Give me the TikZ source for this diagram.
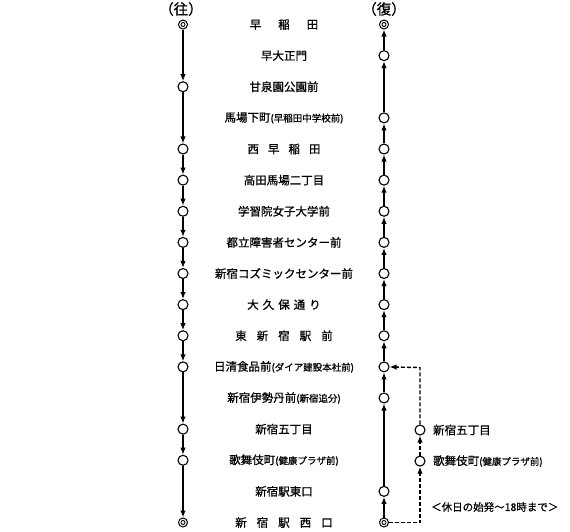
\documentclass[tikz,border=0pt]{standalone}
\usepackage{fontspec}
\newfontfamily\jp[FakeBold=0.8]{Noto Sans CJK JP}
\usetikzlibrary{arrows.meta}
\newcommand\stgap[1]{\hspace{#1pt}}
\newcommand\ann[1]{{\fontsize{9.5}{10}\selectfont(#1)}}
\begin{document}
\begin{tikzpicture}[x=1pt,y=-1pt,
  stop/.style={circle,draw,line width=1.1pt,minimum size=10pt,inner sep=0pt,fill=white},
  term/.style={circle,draw,line width=1pt,minimum size=9pt,inner sep=0pt,fill=white},
  lbl/.style={font=\jp\fontsize{11.5}{12}\selectfont,inner sep=0pt},
  hdr/.style={font=\jp\fontsize{14.5}{15}\selectfont,inner sep=0pt},
  conn/.style={line width=1.4pt,-{Latex[length=7pt,width=5.5pt]}},
  dconn/.style={conn,dash pattern=on 4pt off 2pt}]
\useasboundingbox[fill=white] (0,0) rectangle (570,531);
% headers
\node[hdr] (hL) at (181,9) {（往）};
\node[hdr] (hR) at (384,9) {（復）};
% station labels
\foreach \i/\t in {1/{早\stgap{17}稲\stgap{17}田},
  2/{早大正門},
  3/{甘泉園公園前},
  4/{馬場下町\ann{早稲田中学校前}},
  5/{西\stgap{9}早\stgap{9}稲\stgap{9}田},
  6/{高田馬場二丁目},
  7/{学習院女子大学前},
  8/{都立障害者センター前},
  9/{新宿コズミックセンター前},
  10/{大\stgap{4}久\stgap{4}保\stgap{4}通\stgap{4}り},
  11/{東\stgap{10}新\stgap{10}宿\stgap{10}駅\stgap{10}前},
  12/{日清食品前\ann{ダイア建設本社前}},
  13/{新宿伊勢丹前\ann{新宿追分}},
  14/{新宿五丁目},
  15/{歌舞伎町\ann{健康プラザ前}},
  16/{新宿駅東口},
  17/{新\stgap{10}宿\stgap{10}駅\stgap{10}西\stgap{10}口}}
  \node[lbl] (s\i) at (284,{24.5+(\i-1)*31.125}) {\t};
% left column stops
\node[term] (L1) at (183,24.5) {};
\draw[line width=0.9pt] (L1.center) circle (2pt);
\foreach \i in {3,5,6,7,8,9,10,11,12,14,15}
  \node[stop] (L\i) at (183,{24.5+(\i-1)*31.125}) {};
\node[term] (L17) at (183,522.5) {};
\draw[line width=0.9pt] (L17.center) circle (2pt);
% right column stops
\node[term] (R1) at (384,24.5) {};
\draw[line width=0.9pt] (R1.center) circle (2pt);
\foreach \i in {2,4,5,6,7,8,9,10,11,12,13,16}
  \node[stop] (R\i) at (384,{24.5+(\i-1)*31.125}) {};
\node[term] (R17) at (384,522.5) {};
\draw[line width=0.9pt] (R17.center) circle (2pt);
% dashed branch stops
\node[stop] (D14) at (420,430) {};
\node[stop] (D15) at (420,461.1) {};
\node[lbl,anchor=west] (t14) at (433,430) {新宿五丁目};
\node[lbl,anchor=west] (t15) at (433,461.1) {歌舞伎町\ann{健康プラザ前}};
\node[lbl,anchor=west,font=\jp\fontsize{10.5}{11}\selectfont] (note) at (431,507) {＜休日の始発～18時まで＞};
\coordinate (c1) at (420,522.5);
\coordinate (c2) at (420,367.5);
% left connectors
\draw[conn] (L1) -- (L3);
\draw[conn] (L3) -- (L5);
\foreach \a/\b in {5/6,6/7,7/8,8/9,9/10,10/11,11/12,12/14,14/15,15/17}
  \draw[conn] (L\a) -- (L\b);
% right connectors
\foreach \a/\b in {17/16,16/13,13/12,12/11,11/10,10/9,9/8,8/7,7/6,6/5,5/4,4/2,2/1}
  \draw[conn] (R\a) -- (R\b);
% dashed branch
\draw[dconn] (R17) -- (c1) -- (D15);
\draw[dconn] (D15) -- (D14);
\draw[dconn] (D14) -- (c2) -- (R12);
\end{tikzpicture}
\end{document}
